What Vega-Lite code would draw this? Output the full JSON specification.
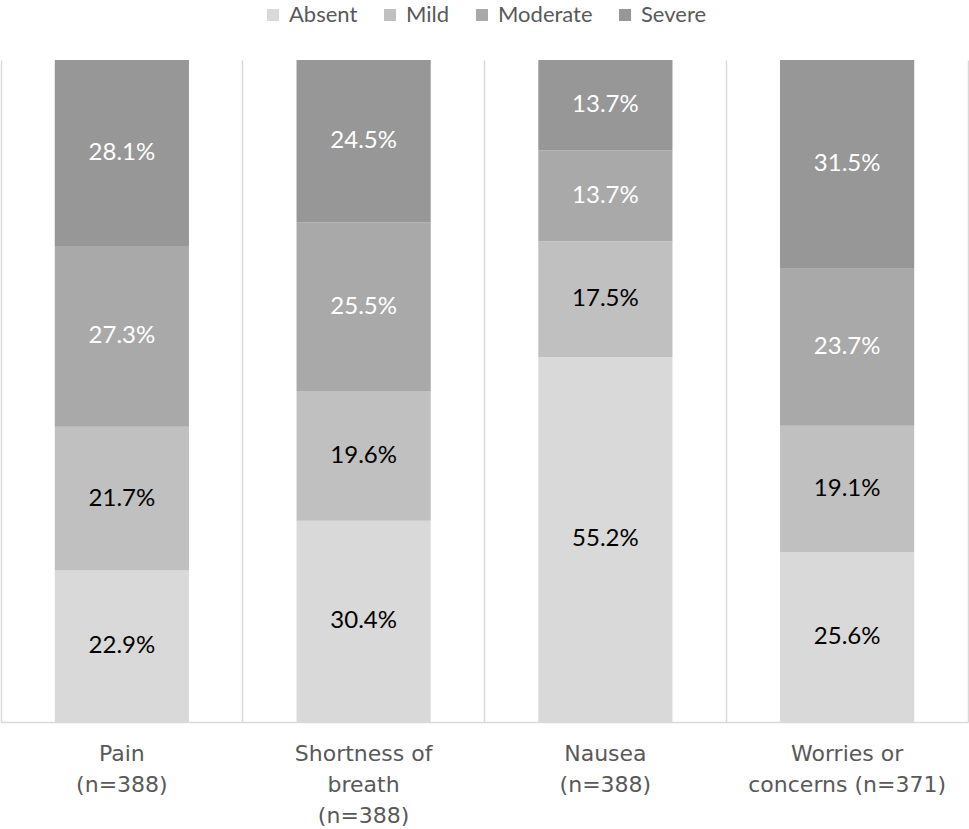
{
  "$schema": "https://vega.github.io/schema/vega-lite/v6.json",
  "width": 969,
  "height": 829,
  "autosize": {"type": "fit", "contains": "padding"},
  "padding": {"left": 1, "right": 1, "top": 60, "bottom": 3},
  "background": "white",
  "config": {
    "view": {"stroke": null},
    "font": "Lato"
  },
  "data": {
    "values": [
      {"symptom": "Pain|(n=388)", "s": 1, "level": "Absent", "o": 1, "pct": 22.9},
      {"symptom": "Pain|(n=388)", "s": 1, "level": "Mild", "o": 2, "pct": 21.7},
      {"symptom": "Pain|(n=388)", "s": 1, "level": "Moderate", "o": 3, "pct": 27.3},
      {"symptom": "Pain|(n=388)", "s": 1, "level": "Severe", "o": 4, "pct": 28.1},
      {"symptom": "Shortness of|breath|(n=388)", "s": 2, "level": "Absent", "o": 1, "pct": 30.4},
      {"symptom": "Shortness of|breath|(n=388)", "s": 2, "level": "Mild", "o": 2, "pct": 19.6},
      {"symptom": "Shortness of|breath|(n=388)", "s": 2, "level": "Moderate", "o": 3, "pct": 25.5},
      {"symptom": "Shortness of|breath|(n=388)", "s": 2, "level": "Severe", "o": 4, "pct": 24.5},
      {"symptom": "Nausea|(n=388)", "s": 3, "level": "Absent", "o": 1, "pct": 55.2},
      {"symptom": "Nausea|(n=388)", "s": 3, "level": "Mild", "o": 2, "pct": 17.5},
      {"symptom": "Nausea|(n=388)", "s": 3, "level": "Moderate", "o": 3, "pct": 13.7},
      {"symptom": "Nausea|(n=388)", "s": 3, "level": "Severe", "o": 4, "pct": 13.7},
      {"symptom": "Worries or|concerns (n=371)", "s": 4, "level": "Absent", "o": 1, "pct": 25.6},
      {"symptom": "Worries or|concerns (n=371)", "s": 4, "level": "Mild", "o": 2, "pct": 19.1},
      {"symptom": "Worries or|concerns (n=371)", "s": 4, "level": "Moderate", "o": 3, "pct": 23.7},
      {"symptom": "Worries or|concerns (n=371)", "s": 4, "level": "Severe", "o": 4, "pct": 31.5}
    ]
  },
  "transform": [
    {"stack": "pct", "groupby": ["symptom"], "sort": [{"field": "o", "order": "ascending"}], "offset": "normalize", "as": ["v0", "v1"]},
    {"calculate": "(datum.v0 + datum.v1) / 2", "as": "mid"},
    {"calculate": "format(datum.pct, '.1f') + '%'", "as": "label"}
  ],
  "encoding": {
    "x": {
      "field": "symptom",
      "type": "nominal",
      "sort": {"field": "s"},
      "scale": {"paddingInner": 0, "paddingOuter": 0},
      "axis": {
        "title": null,
        "labelAngle": 0,
        "labelExpr": "split(datum.label, '|')",
        "labelFont": "DejaVu Sans",
        "labelFontSize": 22,
        "labelLimit": 0,
        "labelColor": "#595959",
        "labelLineHeight": 31,
        "labelPadding": 21,
        "labelBaseline": "top",
        "ticks": false,
        "grid": true,
        "bandPosition": 0,
        "gridColor": "#d9d9d9",
        "gridWidth": 1.5,
        "domain": true,
        "domainColor": "#d9d9d9",
        "domainWidth": 1.5
      }
    }
  },
  "layer": [
    {
      "mark": {"type": "bar", "width": {"band": 0.555}},
      "encoding": {
        "y": {
          "field": "v0",
          "type": "quantitative",
          "scale": {"domain": [0, 1], "nice": false},
          "axis": {"orient": "right", "title": null, "labels": false, "ticks": false, "grid": false, "domain": true, "domainColor": "#d9d9d9", "domainWidth": 1.5}
        },
        "y2": {"field": "v1"},
        "color": {
          "field": "level",
          "type": "nominal",
          "sort": ["Absent", "Mild", "Moderate", "Severe"],
          "scale": {"domain": ["Absent", "Mild", "Moderate", "Severe"], "range": ["#d9d9d9", "#c0c0c0", "#a9a9a9", "#979797"]},
          "legend": {
            "title": null,
            "orient": "none",
            "legendX": 261,
            "legendY": -56,
            "direction": "horizontal",
            "symbolType": "square",
            "symbolSize": 144,
            "symbolStrokeWidth": 0,
            "labelFontSize": 22,
            "labelColor": "#595959",
            "columnPadding": 21,
            "labelOffset": 5,
            "padding": 0
          }
        }
      }
    },
    {
      "mark": {"type": "text", "fontSize": 24, "baseline": "middle", "align": "center"},
      "encoding": {
        "y": {"field": "mid", "type": "quantitative"},
        "text": {"field": "label", "type": "nominal"},
        "color": {
          "condition": {"test": "datum.level == 'Moderate' || datum.level == 'Severe'", "value": "#ffffff"},
          "value": "#000000"
        }
      }
    }
  ]
}
